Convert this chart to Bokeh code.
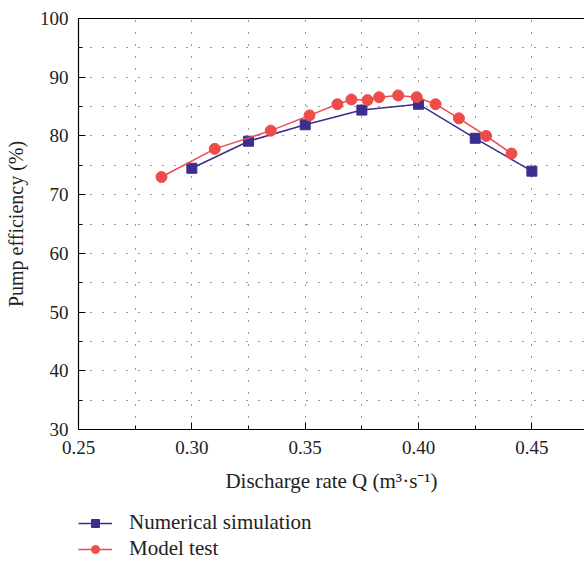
from bokeh.plotting import figure
from bokeh.layouts import column
from bokeh.models import (Range1d, SingleIntervalTicker, LinearAxis, Legend, LegendItem,
                          FixedTicker, Grid, PrintfTickFormatter)
from bokeh.embed import file_html
from bokeh.resources import INLINE

# Data
sim_q = [0.300, 0.325, 0.350, 0.375, 0.400, 0.425, 0.450]
sim_eff = [74.5, 79.1, 81.9, 84.4, 85.4, 79.6, 74.0]

test_q = [0.2866, 0.3101, 0.3348, 0.3519, 0.3642, 0.3704, 0.3775, 0.3826,
          0.3910, 0.3992, 0.4075, 0.4178, 0.4298, 0.4410]
test_eff = [73.0, 77.8, 80.9, 83.5, 85.4, 86.2, 86.1, 86.6,
            86.9, 86.6, 85.4, 83.0, 80.0, 77.0]

series_names = ["Numerical simulation", "Model test"]

BLUE = "#3A2E8F"
RED = "#EE4B4B"
FONT = "Liberation Serif"

p = figure(frame_width=506, frame_height=411, output_backend="svg",
           toolbar_location=None, x_range=Range1d(0.25, 0.4732),
           y_range=Range1d(30, 100), min_border_left=78, min_border_top=18,
           min_border_right=0, min_border_bottom=80, x_axis_type=None, y_axis_type=None)
p.outline_line_color = None
p.background_fill_color = "white"
p.border_fill_color = "white"

xaxis = LinearAxis(ticker=SingleIntervalTicker(interval=0.05, num_minor_ticks=2),
                   formatter=PrintfTickFormatter(format="%.2f"))
yaxis = LinearAxis(ticker=SingleIntervalTicker(interval=10, num_minor_ticks=2))
for ax in (xaxis, yaxis):
    ax.axis_line_color = "black"
    ax.axis_line_width = 1.2
    ax.major_tick_in = 7
    ax.major_tick_out = 0
    ax.minor_tick_in = 4
    ax.minor_tick_out = 0
    ax.major_tick_line_color = "black"
    ax.minor_tick_line_color = "black"
    ax.major_label_text_font = FONT
    ax.major_label_text_font_size = "19px"
    ax.major_label_text_color = "#222222"
    ax.axis_label_text_font = FONT
    ax.axis_label_text_font_style = "normal"
    ax.axis_label_text_color = "#222222"
xaxis.axis_label_text_font_size = "21px"
yaxis.axis_label_text_font_size = "20px"
xaxis.axis_label = "Discharge rate Q (m³·s⁻¹)"
yaxis.axis_label = "Pump efficiency (%)"
xaxis.major_label_standoff = 11
xaxis.axis_label_standoff = 12
yaxis.major_label_standoff = 10
yaxis.axis_label_standoff = 10
p.add_layout(xaxis, "below")
p.add_layout(yaxis, "left")

top = LinearAxis(ticker=FixedTicker(ticks=[]))
top.axis_line_color = "black"
top.axis_line_width = 1.2
top.major_label_text_font_size = "0px"
top.major_tick_line_color = None
top.minor_tick_line_color = None
p.add_layout(top, "above")

xg = Grid(dimension=0, ticker=SingleIntervalTicker(interval=0.025))
yg = Grid(dimension=1, ticker=SingleIntervalTicker(interval=5))
for g in (xg, yg):
    g.grid_line_color = "#333333"
    g.grid_line_dash = "1 11"
    g.grid_line_width = 1
p.add_layout(xg)
p.add_layout(yg)

p.line(sim_q, sim_eff, line_color=BLUE, line_width=1.5)
p.scatter(sim_q, sim_eff, marker="square", size=10, fill_color=BLUE, line_color=BLUE)
p.line(test_q, test_eff, line_color=RED, line_width=1.5)
p.scatter(test_q, test_eff, marker="circle", size=11, fill_color=RED, line_color=RED)

# Legend strip below the chart (its renderers sit off-range, only their legend glyphs show)
q = figure(width=584, height=52, output_backend="svg", toolbar_location=None,
           x_range=Range1d(0, 1), y_range=Range1d(0, 1), min_border=0,
           x_axis_type=None, y_axis_type=None)
q.outline_line_color = None
q.grid.visible = False
q.border_fill_color = "white"
off = [-10, -9]
ll1 = q.line(off, off, line_color=BLUE, line_width=1.5)
ls1 = q.scatter(off, off, marker="square", size=10, fill_color=BLUE, line_color=BLUE)
ll2 = q.line(off, off, line_color=RED, line_width=1.5)
ls2 = q.scatter(off, off, marker="circle", size=11, fill_color=RED, line_color=RED)

legend = Legend(items=[LegendItem(label=series_names[0], renderers=[ll1, ls1]),
                       LegendItem(label=series_names[1], renderers=[ll2, ls2])],
                location=(0, 0), orientation="vertical")
legend.border_line_color = None
legend.background_fill_alpha = 0
legend.label_text_font = FONT
legend.label_text_font_size = "21px"
legend.label_text_color = "#222222"
legend.glyph_width = 34
legend.glyph_height = 20
legend.label_height = 20
legend.label_standoff = 17
legend.spacing = 1
legend.padding = 0
legend.margin = 0
legend.label_text_baseline = "middle"
q.add_layout(legend, "center")

layout = column(p, q, spacing=0)
open("out.html", "w").write(file_html(layout, INLINE))
